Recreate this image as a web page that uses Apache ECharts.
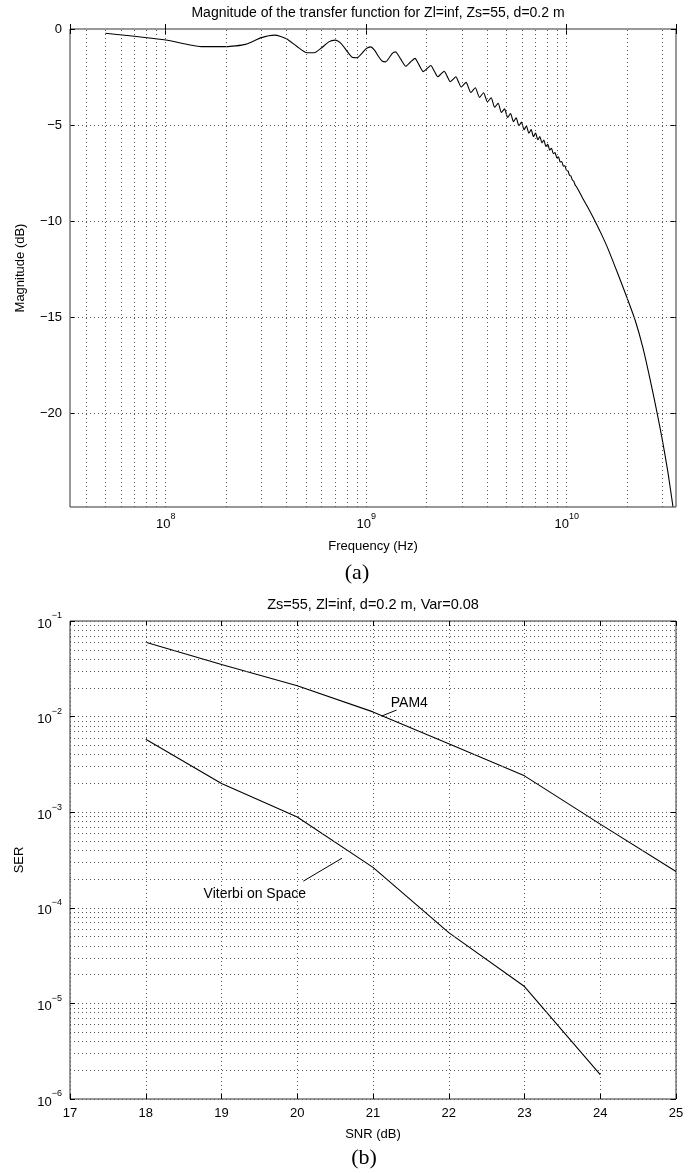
<!DOCTYPE html>
<html><head><meta charset="utf-8">
<script src="https://cdn.jsdelivr.net/npm/echarts@6/dist/echarts.min.js"></script>
<style>html,body{margin:0;padding:0;background:#fff}#c{width:695px;height:1173px}</style>
</head><body><div id="c"></div>
<script>
// ---------- Panel (a): magnitude of transfer function ----------
const freqGHz = [0.05,0.10,0.15,0.20,0.25,0.30,0.35,0.40,0.45,0.50,0.55,0.60,0.65,0.70,0.75,0.80,0.85,0.90,0.95,1.00,1.05,1.10,1.15,1.20,1.25,1.30,1.35,1.40,
1.4875,1.575,1.6625,1.75,1.8375,1.925,2.0125,2.10,2.1875,2.275,2.3625,2.45,2.5375,2.625,2.7125,2.80,2.8875,2.975,3.0625,3.15,
3.325,3.50,3.675,3.85,4.025,4.20,4.375,4.55,4.725,4.90,5.075,5.25,5.425,5.60,5.775,5.95,6.125,6.30,6.475,6.65,6.825,7.00,7.175,7.35,7.525,7.70,7.875,8.05,8.225,8.40,8.575,8.75,8.925,9.10,9.275,9.45,9.625,9.80,9.975,10.15,10.325,10.5,10.675,10.85,11.025,
11.2,12,13,14,15,16,18,20,22,24,26,28,30,32,33.9];
const magDb = [-0.22,-0.57,-0.92,-0.92,-0.80,-0.45,-0.32,-0.51,-0.90,-1.22,-1.24,-0.98,-0.67,-0.58,-0.76,-1.14,-1.47,-1.50,-1.28,-1.02,-0.93,-1.10,-1.42,-1.67,-1.71,-1.51,-1.27,-1.19,
-1.57,-1.94,-1.72,-1.53,-1.88,-2.22,-2.06,-1.90,-2.20,-2.49,-2.34,-2.20,-2.48,-2.75,-2.62,-2.49,-2.76,-3.02,-2.90,-2.78,
-3.31,-3.06,-3.56,-3.32,-3.80,-3.58,-4.08,-3.87,-4.35,-4.16,-4.61,-4.40,-4.83,-4.63,-5.04,-4.85,-5.25,-5.05,-5.43,-5.24,-5.61,-5.42,-5.77,-5.60,-5.93,-5.79,-6.12,-6.00,-6.31,-6.21,-6.50,-6.43,-6.71,-6.66,-6.93,-6.90,-7.15,-7.13,-7.37,-7.39,-7.62,-7.66,-7.87,-7.93,-8.13,
-8.22,-8.80,-9.45,-10.10,-10.75,-11.40,-12.75,-14.00,-15.20,-16.60,-18.20,-19.80,-21.40,-23.10,-24.88];
const magTicks = [-20,-15,-10,-5,0];
const magGridLines = [-20,-15,-10,-5];
const freqGridLines = [4e7,5e7,6e7,7e7,8e7,9e7,1e8,2e8,3e8,4e8,5e8,6e8,7e8,8e8,9e8,1e9,2e9,3e9,4e9,5e9,6e9,7e9,8e9,9e9,1e10,2e10,3e10];
const freqMin = 3.33e7, freqMax = 3.51e10, magMin = -24.9, magMax = 0;

// ---------- Panel (b): SER vs SNR ----------
const snrPam4 = [18,19,20,21,22,23,24,25];
const serPam4 = [0.060,0.035,0.021,0.0112,0.0052,0.0024,0.00075,0.00024];
const snrViterbi = [18,19,20,21,22,23,24];
const serViterbi = [0.0058,0.0020,0.00089,0.000265,0.000055,0.000015,0.0000018];
const snrMin = 17, snrMax = 25;
const serMin = 1e-6, serMax = 1e-1;
const serMinorGrid = [2e-6,3e-6,4e-6,5e-6,6e-6,7e-6,8e-6,9e-6,2e-5,3e-5,4e-5,5e-5,6e-5,7e-5,8e-5,9e-5,2e-4,3e-4,4e-4,5e-4,6e-4,7e-4,8e-4,9e-4,2e-3,3e-3,4e-3,5e-3,6e-3,7e-3,8e-3,9e-3,2e-2,3e-2,4e-2,5e-2,6e-2,7e-2,8e-2,9e-2];
const pam4Label = {text:'PAM4', at:[21.48, 0.0138]};
const pam4Arrow = [[21.31, 0.0117],[21.11, 0.0101]];
const vitLabel = {text:'Viterbi on Space', at:[19.44, 0.000140]};
const vitArrow = [[20.08, 0.000190],[20.59, 0.000330]];

const FONT = '"Liberation Sans", Arial, Helvetica, sans-serif';
const SERIF = '"Liberation Serif", "Times New Roman", serif';
const GRIDC = '#555';
const DOT = [1, 3];

function supLabel(v){
  const e = Math.log10(v), r = Math.round(e);
  if (Math.abs(e - r) > 1e-6) return '';
  return '{b|10}{s|' + (r < 0 ? '\u2212' + (-r) : r) + '}';
}
const supRich = {
  b:{fontSize:13, fontFamily:FONT, color:'#000', lineHeight:19, verticalAlign:'bottom'},
  s:{fontSize:9, fontFamily:FONT, color:'#000', lineHeight:10, verticalAlign:'top'}
};
const nameStyle = {fontSize:13, fontFamily:FONT, color:'#000'};
const tick = {show:true, inside:true, length:5, lineStyle:{color:'#000', width:1}};
const gridLine = {color:GRIDC, type:DOT, width:1};

const chart = echarts.init(document.getElementById('c'));
chart.setOption({
  animation:false,
  backgroundColor:'#fff',
  grid:[
    {left:70, top:29, width:606, height:478, show:true, borderColor:'#333', borderWidth:1},
    {left:70, top:621, width:606, height:478, show:true, borderColor:'#333', borderWidth:1}
  ],
  xAxis:[
    {type:'log', gridIndex:0, min:freqMin, max:freqMax, axisLine:{show:false}, axisTick:tick,
     axisLabel:{formatter:supLabel, rich:supRich, margin:5}, splitLine:{show:false},
     name:'Frequency (Hz)', nameLocation:'middle', nameGap:33, nameTextStyle:nameStyle},
    {type:'log', gridIndex:0, position:'top', min:freqMin, max:freqMax, axisLine:{show:false}, axisTick:tick,
     axisLabel:{show:false}, splitLine:{show:false}},
    {type:'value', gridIndex:1, min:snrMin, max:snrMax, interval:1, axisLine:{show:false}, axisTick:tick,
     axisLabel:{fontSize:13, fontFamily:FONT, color:'#000', margin:8},
     splitLine:{show:true, lineStyle:gridLine},
     name:'SNR (dB)', nameLocation:'middle', nameGap:29, nameTextStyle:nameStyle},
    {type:'value', gridIndex:1, position:'top', min:snrMin, max:snrMax, interval:1, axisLine:{show:false}, axisTick:tick,
     axisLabel:{show:false}, splitLine:{show:false}}
  ],
  yAxis:[
    {type:'value', gridIndex:0, min:magMin, max:magMax, axisLine:{show:false},
     axisTick:Object.assign({customValues:magTicks}, tick),
     axisLabel:{customValues:magTicks, fontSize:13, fontFamily:FONT, color:'#000', margin:8,
       formatter:v => v === 0 ? '0' : '\u2212' + Math.abs(v)},
     splitLine:{show:false},
     name:'Magnitude (dB)', nameLocation:'middle', nameGap:43, nameTextStyle:nameStyle},
    {type:'value', gridIndex:0, position:'right', min:magMin, max:magMax, axisLine:{show:false},
     axisTick:Object.assign({customValues:magTicks}, tick), axisLabel:{show:false}, splitLine:{show:false}},
    {type:'log', gridIndex:1, min:serMin, max:serMax, axisLine:{show:false}, axisTick:tick,
     axisLabel:{formatter:supLabel, rich:supRich, margin:8},
     splitLine:{show:true, lineStyle:gridLine},
     name:'SER', nameLocation:'middle', nameGap:35, nameTextStyle:nameStyle},
    {type:'log', gridIndex:1, position:'right', min:serMin, max:serMax, axisLine:{show:false}, axisTick:tick,
     axisLabel:{show:false}, splitLine:{show:false}}
  ],
  series:[
    {type:'line', xAxisIndex:0, yAxisIndex:0, showSymbol:false, symbol:'none', silent:true, smooth:0.2,
     lineStyle:{color:'#000', width:1.1},
     data:freqGHz.map((f,i)=>[f*1e9, magDb[i]]),
     markLine:{silent:true, symbol:['none','none'], precision:12, label:{show:false}, animation:false,
       lineStyle:gridLine,
       data:[...freqGridLines.map(v=>({xAxis:v})), ...magGridLines.map(v=>({yAxis:v}))]}},
    {type:'line', xAxisIndex:2, yAxisIndex:2, showSymbol:false, symbol:'none', silent:true,
     lineStyle:{color:'#000', width:1.1},
     data:snrPam4.map((s,i)=>[s, serPam4[i]]),
     markLine:{silent:true, symbol:['none','none'], precision:12, label:{show:false}, animation:false,
       lineStyle:gridLine,
       data:serMinorGrid.map(v=>[{coord:[snrMin, v]},{coord:[snrMax, v]}])}},
    {type:'line', xAxisIndex:2, yAxisIndex:2, showSymbol:false, symbol:'none', silent:true,
     lineStyle:{color:'#000', width:1.1},
     data:snrViterbi.map((s,i)=>[s, serViterbi[i]]),
     markLine:{silent:true, symbol:['none','arrow'], symbolSize:[0,7], precision:12, label:{show:false}, animation:false,
       lineStyle:{color:'#000', type:'solid', width:1},
       data:[[{coord:pam4Arrow[0]},{coord:pam4Arrow[1]}],[{coord:vitArrow[0]},{coord:vitArrow[1]}]]},
     markPoint:{silent:true, symbol:'circle', symbolSize:1, itemStyle:{color:'rgba(0,0,0,0)'}, animation:false,
       label:{show:true, position:'inside', color:'#000', fontSize:14, fontFamily:FONT},
       data:[{coord:pam4Label.at, label:{formatter:pam4Label.text}},{coord:vitLabel.at, label:{formatter:vitLabel.text}}]}}
  ],
  graphic:[
    {type:'text', x:378, y:13, style:{text:'Magnitude of the transfer function for Zl=inf, Zs=55, d=0.2 m', font:'14px '+FONT, fill:'#000', textAlign:'center', textVerticalAlign:'middle'}},
    {type:'text', x:357, y:573, style:{text:'(a)', font:'22px '+SERIF, fill:'#000', textAlign:'center', textVerticalAlign:'middle'}},
    {type:'text', x:373, y:605, style:{text:'Zs=55, Zl=inf, d=0.2 m, Var=0.08', font:'14.5px '+FONT, fill:'#000', textAlign:'center', textVerticalAlign:'middle'}},
    {type:'text', x:364, y:1158, style:{text:'(b)', font:'22px '+SERIF, fill:'#000', textAlign:'center', textVerticalAlign:'middle'}}
  ]
});
</script>
</body></html>
